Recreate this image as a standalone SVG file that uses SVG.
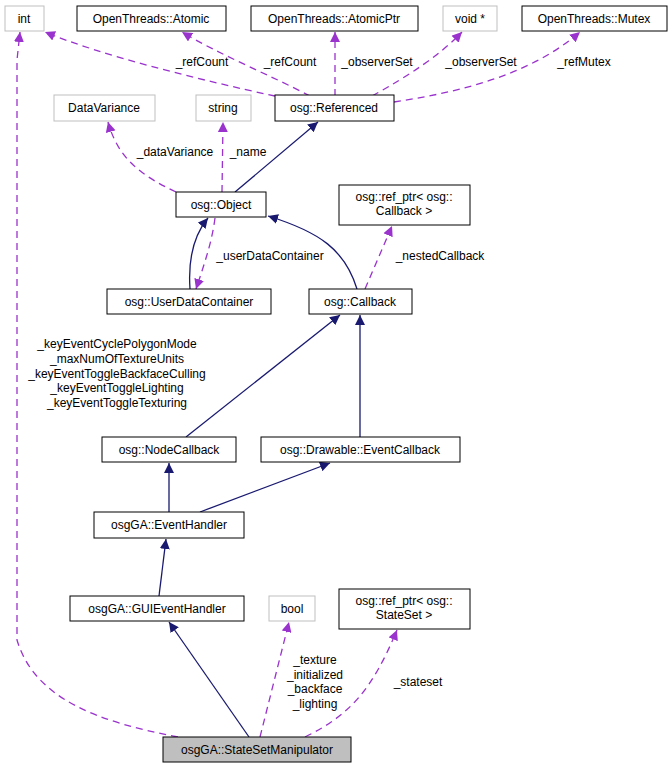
<svg xmlns="http://www.w3.org/2000/svg" width="670" height="768" viewBox="0 0 670 768">
<style>
text{font-family:"Liberation Sans",Arial,sans-serif;font-size:12px;fill:#000}
.n rect{fill:#fff;stroke:#000;stroke-width:1}
.g rect{fill:#fff;stroke:#bfbfbf;stroke-width:1}
.m{text-anchor:middle}
.inh{fill:none;stroke:#191970;stroke-width:1.3;marker-end:url(#an)}
.use{fill:none;stroke:#9a32cd;stroke-width:1.3;stroke-dasharray:7,5;marker-end:url(#ap)}
</style>
<defs>
<marker id="an" viewBox="0 0 10 10" refX="10" refY="5" markerWidth="10" markerHeight="10" markerUnits="userSpaceOnUse" orient="auto"><path d="M0,0L10,5L0,10z" fill="#191970"/></marker>
<marker id="ap" viewBox="0 0 10 10" refX="10" refY="5" markerWidth="10" markerHeight="10" markerUnits="userSpaceOnUse" orient="auto"><path d="M0,0L10,5L0,10z" fill="#9a32cd"/></marker>
</defs>
<rect width="670" height="768" fill="#fff"/>
<g id="edges">
<path class="use" d="M178,737 C100,722 35,700 17,640 L17,60 L20,32"/>
<path class="use" d="M275,96 C200,80 100,55 45,32"/>
<path class="use" d="M310,96 C270,75 220,55 182,32"/>
<path class="use" d="M335,96 L335,32"/>
<path class="use" d="M372,96 C410,75 440,55 462,32"/>
<path class="use" d="M394,102 C460,92 530,75 580,32"/>
<path class="use" d="M176,192 C140,175 118,158 108,122"/>
<path class="use" d="M222,192 L223,122"/>
<path class="inh" d="M235,192 L318,122"/>
<path class="inh" d="M190,289 C188,260 194,235 208,218"/>
<path class="use" d="M215,218 C212,242 204,265 196,289"/>
<path class="inh" d="M357,289 C345,250 320,232 268,216"/>
<path class="use" d="M365,289 L392,226"/>
<path class="inh" d="M186,437 L340,315"/>
<path class="inh" d="M360,437 L360,315"/>
<path class="inh" d="M169,512 L169,463"/>
<path class="inh" d="M200,512 L330,463"/>
<path class="inh" d="M159,596 L166,539"/>
<path class="inh" d="M249,737 L169,622"/>
<path class="use" d="M260,737 L289,622"/>
<path class="use" d="M305,737 C350,715 372,690 397,630"/>
</g>
<g id="labels">
<text x="202" y="66" class="m">_refCount</text>
<text x="290" y="66" class="m">_refCount</text>
<text x="377" y="66" class="m">_observerSet</text>
<text x="481" y="66" class="m">_observerSet</text>
<text x="584" y="66" class="m">_refMutex</text>
<text x="175" y="156" class="m">_dataVariance</text>
<text x="248" y="156" class="m">_name</text>
<text x="270" y="260" class="m">_userDataContainer</text>
<text x="440" y="260" class="m">_nestedCallback</text>
<text x="117" y="348" class="m">_keyEventCyclePolygonMode</text>
<text x="117" y="363" class="m">_maxNumOfTextureUnits</text>
<text x="117" y="378" class="m">_keyEventToggleBackfaceCulling</text>
<text x="117" y="392" class="m">_keyEventToggleLighting</text>
<text x="117" y="407" class="m">_keyEventToggleTexturing</text>
<text x="315" y="664" class="m">_texture</text>
<text x="315" y="679" class="m">_initialized</text>
<text x="315" y="693" class="m">_backface</text>
<text x="315" y="708" class="m">_lighting</text>
<text x="418" y="686" class="m">_stateset</text>
</g>
<g id="int" class="g"><rect x="5" y="6" width="39" height="25"/><text x="24" y="23" class="m">int</text></g>
<g id="atomic" class="n"><rect x="77" y="6" width="149" height="25"/><text x="151" y="23" class="m">OpenThreads::Atomic</text></g>
<g id="atomicptr" class="n"><rect x="251" y="6" width="167" height="25"/><text x="334" y="23" class="m">OpenThreads::AtomicPtr</text></g>
<g id="voidp" class="g"><rect x="443" y="6" width="54" height="25"/><text x="470" y="23" class="m">void *</text></g>
<g id="mutex" class="n"><rect x="522" y="6" width="145" height="25"/><text x="594" y="23" class="m">OpenThreads::Mutex</text></g>
<g id="datavariance" class="g"><rect x="54" y="95" width="101" height="26"/><text x="104" y="112" class="m">DataVariance</text></g>
<g id="string" class="g"><rect x="196" y="95" width="55" height="26"/><text x="223" y="112" class="m">string</text></g>
<g id="referenced" class="n"><rect x="275" y="95" width="119" height="26"/><text x="334" y="112" class="m">osg::Referenced</text></g>
<g id="object" class="n"><rect x="176" y="192" width="90" height="25"/><text x="221" y="209" class="m">osg::Object</text></g>
<g id="refcb" class="n"><rect x="339" y="185" width="131" height="40"/><text x="404" y="201" class="m">osg::ref_ptr&lt; osg::</text><text x="404" y="215" class="m">Callback &gt;</text></g>
<g id="udc" class="n"><rect x="107" y="289" width="164" height="25"/><text x="189" y="306" class="m">osg::UserDataContainer</text></g>
<g id="callback" class="n"><rect x="309" y="289" width="103" height="25"/><text x="360" y="306" class="m">osg::Callback</text></g>
<g id="nodecb" class="n"><rect x="102" y="437" width="134" height="25"/><text x="169" y="454" class="m">osg::NodeCallback</text></g>
<g id="drawcb" class="n"><rect x="261" y="437" width="199" height="25"/><text x="360" y="454" class="m">osg::Drawable::EventCallback</text></g>
<g id="eventhandler" class="n"><rect x="94" y="512" width="150" height="26"/><text x="169" y="529" class="m">osgGA::EventHandler</text></g>
<g id="guieh" class="n"><rect x="70" y="596" width="174" height="25"/><text x="157" y="613" class="m">osgGA::GUIEventHandler</text></g>
<g id="bool" class="g"><rect x="269" y="596" width="46" height="25"/><text x="292" y="613" class="m">bool</text></g>
<g id="refss" class="n"><rect x="339" y="589" width="131" height="40"/><text x="404" y="605" class="m">osg::ref_ptr&lt; osg::</text><text x="404" y="619" class="m">StateSet &gt;</text></g>
<g id="manip"><rect x="163" y="737" width="188" height="25" fill="#bfbfbf" stroke="#000"/><text x="257" y="754" class="m">osgGA::StateSetManipulator</text></g>
</svg>
